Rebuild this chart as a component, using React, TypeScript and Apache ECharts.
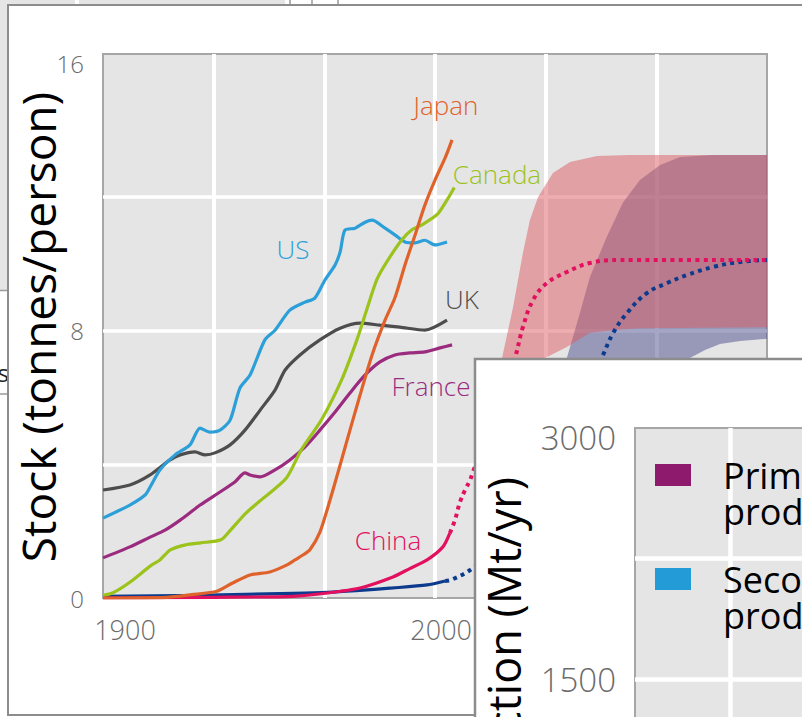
import React, { useEffect, useRef } from "react";
import * as echarts from "echarts";

const FONT = "'Open Sans', 'Noto Sans', sans-serif";

// Historical per-capita steel stock (tonnes/person)
const usYears = [1900, 1908.5, 1913.3, 1914.9, 1918, 1922.8, 1927.5, 1930.7, 1933.8, 1937, 1940.2, 1943.3, 1946.5, 1951.2, 1954.4, 1959.1, 1963.9, 1967, 1970.2, 1973.4, 1975, 1976.5, 1979.7, 1982.9, 1985.1, 1989.2, 1992.3, 1995.5, 1998.7, 2001.8, 2005, 2008.8];
const usStock = [2.39, 2.78, 3.08, 3.32, 3.83, 4.28, 4.58, 5.08, 4.96, 5.02, 5.32, 6.28, 6.67, 7.72, 8.01, 8.61, 8.85, 8.97, 9.51, 9.96, 10.35, 11.0, 11.06, 11.24, 11.3, 11.06, 10.86, 10.65, 10.62, 10.7, 10.56, 10.65];

const ukYears = [1900, 1908.5, 1914.9, 1921.2, 1924.4, 1929.1, 1932.3, 1935.4, 1940.2, 1944.9, 1949.7, 1954.4, 1957.6, 1962.3, 1968.6, 1975, 1981.3, 1987.6, 1993.9, 2001.8, 2008.8];
const ukStock = [3.23, 3.38, 3.68, 4.13, 4.28, 4.37, 4.28, 4.34, 4.58, 5.02, 5.62, 6.22, 6.82, 7.27, 7.72, 8.07, 8.22, 8.16, 8.1, 8.01, 8.31];

const franceYears = [1900, 1908.5, 1914.9, 1919.6, 1924.4, 1930.7, 1937, 1941.7, 1944.9, 1946.5, 1949.7, 1954.4, 1959.1, 1963.9, 1968.6, 1973.4, 1978.1, 1982.9, 1987.6, 1992.3, 1997.1, 2001.8, 2006.6, 2010.4];
const franceStock = [1.2, 1.53, 1.82, 2.03, 2.33, 2.78, 3.17, 3.47, 3.74, 3.68, 3.62, 3.83, 4.13, 4.52, 5.02, 5.56, 6.13, 6.67, 7.06, 7.27, 7.33, 7.36, 7.48, 7.57];

const japanYears = [1900, 1920, 1928, 1936, 1941, 1946.5, 1952.8, 1958.2, 1960.7, 1963.5, 1965.5, 1968.6, 1971.8, 1975, 1978.1, 1981.3, 1985.1, 1989.2, 1992.3, 1995.5, 1998.7, 2001.8, 2005, 2008.2, 2010.4];
const japanStock = [0, 0.02, 0.1, 0.2, 0.45, 0.69, 0.78, 0.99, 1.14, 1.3, 1.45, 1.97, 2.93, 3.98, 5.02, 6.07, 7.27, 8.31, 8.97, 9.96, 10.86, 11.75, 12.5, 13.16, 13.7];

const canadaYears = [1900, 1903, 1908.6, 1915, 1918, 1921.3, 1926.1, 1930.9, 1937.3, 1940.4, 1945.2, 1950, 1958, 1962.7, 1969.1, 1975.5, 1980.3, 1983.4, 1986.6, 1989.8, 1994.6, 1997.8, 2001, 2005.7, 2008.9, 2011.1];
const canadaStock = [0.08, 0.15, 0.48, 0.96, 1.14, 1.44, 1.59, 1.65, 1.74, 2.04, 2.54, 2.93, 3.59, 4.43, 5.33, 6.53, 7.72, 8.62, 9.52, 10.06, 10.72, 11.02, 11.17, 11.47, 11.92, 12.28];

const chinaYears = [1900, 1935, 1960, 1971, 1981.3, 1991.7, 1997, 2002.5, 2007.5, 2009.7];
const chinaStock = [0, 0.02, 0.05, 0.15, 0.3, 0.63, 0.88, 1.14, 1.53, 1.94];
const chinaProjYears = [2009.7, 2011.3, 2012.9, 2014.5, 2016.1, 2017, 2022, 2026, 2030.3, 2032.8, 2036, 2040.4, 2046.7, 2054, 2063.5, 2110];
const chinaProjStock = [1.94, 2.33, 2.87, 3.23, 3.53, 3.77, 5.0, 6.0, 7.18, 8.1, 8.91, 9.42, 9.75, 10.02, 10.11, 10.11];

const worldYears = [1900, 1930, 1960, 1971, 1980, 1991.7, 2002.5, 2008.2];
const worldStock = [0.05, 0.08, 0.14, 0.17, 0.22, 0.3, 0.39, 0.51];
const worldProjYears = [2008.2, 2010.4, 2017, 2025, 2035, 2045, 2052, 2057.8, 2061.3, 2065.7, 2072, 2078.4, 2084.7, 2092.9, 2101.5, 2110];
const worldProjStock = [0.51, 0.55, 0.9, 1.6, 3.1, 4.8, 6.1, 7.2, 7.92, 8.52, 9.12, 9.42, 9.66, 9.9, 10.05, 10.11];

// Projection ranges (bands)
const chinaBandUpperYears = [2018, 2022, 2026.2, 2029.7, 2032.8, 2035, 2037.6, 2042.3, 2047.7, 2056.2, 2066.7, 2110];
const chinaBandUpper = [2.2, 4.2, 7.18, 8.7, 10.32, 11.3, 11.99, 12.71, 13.04, 13.22, 13.25, 13.25];
const chinaBandLowerYears = [2018, 2030, 2036, 2039.8, 2046.7, 2054, 2063.5, 2069.8, 2110];
const chinaBandLower = [1.8, 4.5, 6.3, 7.18, 7.51, 7.93, 8.03, 8.07, 8.1];

const worldBandUpperYears = [2020, 2035, 2042, 2046.7, 2050.8, 2054, 2059.3, 2064.4, 2069.8, 2076.2, 2082.5, 2092.9, 2110];
const worldBandUpper = [1.0, 3.5, 5.5, 7.18, 8.52, 9.6, 10.8, 11.82, 12.5, 12.95, 13.19, 13.25, 13.25];
const worldBandLowerYears = [2020, 2050, 2070, 2080, 2085.6, 2090.4, 2095.1, 2101.5, 2110];
const worldBandLower = [0.8, 2.5, 5.0, 6.5, 7.18, 7.42, 7.6, 7.69, 7.75];

const stockTicks = [0, 8, 16];
const yearTicks = [1900, 2000];
const productionTicks = [1500, 3000];

const legendNames = ["Primary\nproduction", "Secondary\nproduction"];
const legendColors = ["#8e1a6e", "#229bd6"];

const countryLabels = ["Japan", "Canada", "US", "UK", "France", "China"];
const countryColors = ["#e0622b", "#9bc31c", "#2c9fd9", "#4d4d4d", "#9a2b7f", "#e2105e"];
const labelPos: [number, number][] = [
  [446, 105],
  [497, 174],
  [293, 249],
  [462, 299],
  [431, 386],
  [388, 540],
];

const zip = (xs: number[], ys: number[]) => xs.map((x, i) => [x, ys[i]]);

export default function App() {
  const ref = useRef<HTMLDivElement>(null);
  useEffect(() => {
    const chart = echarts.init(ref.current as HTMLDivElement, null, { renderer: "svg" });

    const line = (name: string, xs: number[], ys: number[], color: string, dotted = false) => ({
      type: "line",
      name,
      data: zip(xs, ys),
      xAxisIndex: 1,
      yAxisIndex: 0,
      symbol: "none",
      showSymbol: false,
      smooth: dotted ? 0.4 : 0.25,
      silent: true,
      z: 8,
      lineStyle: { color, width: dotted ? 4 : 3.2, type: dotted ? [4, 4.3] : "solid", cap: "butt" },
    });

    const band = (name: string, ux: number[], uy: number[], lx: number[], ly: number[], fill: string) => ({
      type: "custom",
      name,
      xAxisIndex: 1,
      yAxisIndex: 0,
      clip: true,
      silent: true,
      z: 7,
      data: [[ux[ux.length - 1], uy[uy.length - 1]]],
      renderItem: (_p: any, api: any) => {
        const up = ux.map((x, i) => api.coord([x, uy[i]]));
        const lo = lx.map((x, i) => api.coord([x, ly[i]])).reverse();
        return { type: "polygon", shape: { points: up.concat(lo) }, style: { fill } };
      },
    });

    const tickStyle = { color: "#6b6b6b", fontFamily: FONT, fontWeight: 300 };

    const graphics: any[] = [
      // background collage pieces
      { type: "rect", z: 1, shape: { x: 0, y: 0, width: 75, height: 5 }, style: { fill: "#e5e5e5" } },
      { type: "rect", z: 1, shape: { x: 79, y: 0, width: 206, height: 5 }, style: { fill: "#e5e5e5" } },
      { type: "rect", z: 1, shape: { x: 0, y: 0, width: 8, height: 290 }, style: { fill: "#e5e5e5" } },
      { type: "line", z: 1, shape: { x1: 0, y1: 290.5, x2: 8, y2: 290.5 }, style: { stroke: "#9a9a9a", lineWidth: 1.5 } },
      { type: "line", z: 1, shape: { x1: 0, y1: 394, x2: 8, y2: 394 }, style: { stroke: "#9a9a9a", lineWidth: 1.5 } },
      { type: "line", z: 1, shape: { x1: 290, y1: 0, x2: 290, y2: 5 }, style: { stroke: "#999", lineWidth: 1.5 } },
      { type: "line", z: 1, shape: { x1: 312, y1: 0, x2: 312, y2: 5 }, style: { stroke: "#999", lineWidth: 1.5 } },
      { type: "line", z: 1, shape: { x1: 338, y1: 0, x2: 338, y2: 5 }, style: { stroke: "#999", lineWidth: 1.5 } },
      { type: "text", z: 1, x: 9, y: 372, style: { text: "’s", fill: "#222", fontSize: 24, fontFamily: FONT, align: "right", textAlign: "right", verticalAlign: "middle", textVerticalAlign: "middle" } },
      // main panel
      { type: "rect", z: 2, shape: { x: 8, y: 5, width: 1000, height: 710 }, style: { fill: "#ffffff", stroke: "#8c8c8c", lineWidth: 2 } },
      {
        type: "text", z: 6, x: 38, y: 327, rotation: Math.PI / 2,
        style: { text: "Stock (tonnes/person)", fill: "#000", fontSize: 46, fontFamily: FONT, align: "center", textAlign: "center", verticalAlign: "middle", textVerticalAlign: "middle" },
      },
      ...countryLabels.map((t, i) => ({
        type: "text", z: 9, x: labelPos[i][0], y: labelPos[i][1],
        style: { text: t, fill: countryColors[i], fontSize: 26, fontFamily: FONT, fontWeight: 300, align: "center", textAlign: "center", verticalAlign: "middle", textVerticalAlign: "middle" },
      })),
      // inset panel
      { type: "rect", z: 50, shape: { x: 475, y: 359, width: 400, height: 400 }, style: { fill: "#ffffff", stroke: "#8c8c8c", lineWidth: 2.5 } },
      {
        type: "text", z: 55, x: 503, y: 477, rotation: Math.PI / 2,
        style: { text: "Production (Mt/yr)", fill: "#000", fontSize: 45, fontFamily: FONT, align: "right", textAlign: "right", verticalAlign: "middle", textVerticalAlign: "middle" },
      },
      ...legendNames.flatMap((n, i) => [
        { type: "rect", z: 60, shape: { x: 655, y: 464 + i * 104, width: 36, height: 22 }, style: { fill: legendColors[i] } },
        {
          type: "text", z: 60, x: 723, y: 457 + i * 104,
          style: { text: n, fill: "#000", fontSize: 36, lineHeight: 36, fontFamily: FONT, align: "left", textAlign: "left", verticalAlign: "top", textVerticalAlign: "top" },
        },
      ]),
    ];

    const option: any = {
      animation: false,
      backgroundColor: "#ffffff",
      grid: [
        { left: 103, top: 54, width: 664, height: 544, show: true, backgroundColor: "#e5e5e5", borderColor: "#a6a6a6", borderWidth: 2, z: 5, outerBoundsMode: "none", containLabel: false },
        { left: 635, top: 428, width: 380, height: 493, show: true, backgroundColor: "#e5e5e5", borderColor: "#a6a6a6", borderWidth: 2, z: 51, outerBoundsMode: "none", containLabel: false },
      ],
      xAxis: [
        {
          gridIndex: 0, type: "value", min: 0, max: 6, interval: 1, position: "bottom", z: 6,
          axisLine: { show: false }, axisTick: { show: false }, axisLabel: { show: false },
          splitLine: { show: true, showMinLine: false, showMaxLine: false, lineStyle: { color: "#ffffff", width: 4 } },
        },
        {
          gridIndex: 0, type: "value", min: 1900, max: 2110, interval: 100, position: "bottom", z: 6,
          axisLine: { show: false }, axisTick: { show: false }, splitLine: { show: false },
          axisLabel: {
            ...tickStyle, fontSize: 27, margin: 18, align: "center", padding: [0, 0, 0, 44],
            showMinLabel: true, showMaxLabel: true, hideOverlap: false,
            formatter: (v: number) => (yearTicks.includes(Math.round(v)) && Math.abs(v - Math.round(v)) < 1e-6 ? String(Math.round(v)) : ""),
          },
        },
        {
          gridIndex: 1, type: "value", min: 0, max: 4, interval: 1, position: "bottom", z: 52,
          axisLine: { show: false }, axisTick: { show: false }, axisLabel: { show: false },
          splitLine: { show: true, showMinLine: false, showMaxLine: false, lineStyle: { color: "#ffffff", width: 4.5 } },
        },
      ],
      yAxis: [
        {
          gridIndex: 0, type: "value", min: 0, max: 16.27, interval: 4, z: 6,
          axisLine: { show: false }, axisTick: { show: false },
          axisLabel: {
            ...tickStyle, fontSize: 24, margin: 19,
            formatter: (v: number) => (stockTicks.includes(v) ? String(v) : ""),
          },
          splitLine: { show: true, showMinLine: false, showMaxLine: false, lineStyle: { color: ["#ffffff", "#ffffff", "#ffffff", "rgba(0,0,0,0)"], width: 3.5 } },
        },
        {
          gridIndex: 1, type: "value", min: 0, max: 3055.8, interval: 750, z: 52,
          axisLine: { show: false }, axisTick: { show: false },
          axisLabel: {
            ...tickStyle, fontSize: 33, margin: 19,
            formatter: (v: number) => (productionTicks.includes(v) ? String(v) : ""),
          },
          splitLine: { show: true, showMinLine: false, showMaxLine: false, lineStyle: { color: ["#ffffff", "#ffffff", "#ffffff", "rgba(0,0,0,0)"], width: 4.5 } },
        },
      ],
      graphic: { elements: graphics },
      series: [
        band("World range", worldBandUpperYears, worldBandUpper, worldBandLowerYears, worldBandLower, "rgba(75,75,139,0.5)"),
        band("China range", chinaBandUpperYears, chinaBandUpper, chinaBandLowerYears, chinaBandLower, "rgba(219,91,99,0.5)"),
        line("World", worldYears, worldStock, "#0c3b8e"),
        line("World projection", worldProjYears, worldProjStock, "#0c3b8e", true),
        line("China", chinaYears, chinaStock, "#e2105e"),
        line("China projection", chinaProjYears, chinaProjStock, "#e2105e", true),
        line("France", franceYears, franceStock, "#9a2b7f"),
        line("UK", ukYears, ukStock, "#4d4d4d"),
        line("US", usYears, usStock, "#2c9fd9"),
        line("Canada", canadaYears, canadaStock, "#9bc31c"),
        line("Japan", japanYears, japanStock, "#e0622b"),
      ],
    };

    chart.setOption(option);
    return () => chart.dispose();
  }, []);

  return <div ref={ref} style={{ position: "fixed", left: 0, top: 0, width: 802, height: 717 }} />;
}
